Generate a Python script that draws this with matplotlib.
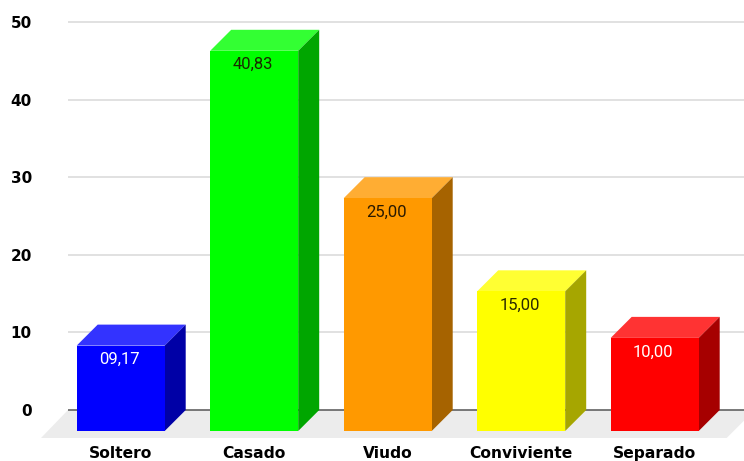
import matplotlib
matplotlib.use('Agg')
import matplotlib.pyplot as plt
from matplotlib.patches import Polygon

# Estado civil: porcentaje de cada grupo sobre un total de 120 personas
categorias = ['Soltero', 'Casado', 'Viudo', 'Conviviente', 'Separado']
porcentajes = [9.17, 40.83, 25.00, 15.00, 10.00]
total = 120
y_ticks = [0, 10, 20, 30, 40, 50]

color_frente = ['#0000ff', '#00ff00', '#ff9900', '#ffff00', '#ff0000']
color_arriba = ['#3333ff', '#33ff33', '#ffad33', '#ffff33', '#ff3333']
color_lado = ['#0000a6', '#00a600', '#a66300', '#a6a600', '#a60000']
color_texto = ['white', '#1a2a00', '#2a1a00', '#2a2a00', 'white']

W, H = 744, 461
# escala en pixeles de la figura
px_y = 7.76
px_x = 133.5
x0_px = 120.7
prof = 21

conteos = [p * total / 100 for p in porcentajes]
x = list(range(len(categorias)))
ancho = 88 / px_x
dx = prof / px_x
dy = prof / px_y

fig = plt.figure(figsize=(W / 100, H / 100), dpi=100)
ax = fig.add_axes([68 / W, (H - 438) / H, (W - 68) / W, (438 - 22) / H])
ax.set_xlim((68 - x0_px) / px_x, (W - x0_px) / px_x)
ax.set_ylim(-28 / px_y, 50)

for s in ax.spines.values():
    s.set_visible(False)

# piso gris detras de las barras
xa, xb = ax.get_xlim()
piso_x = 27 / px_x
ax.add_patch(Polygon([(xa - piso_x, -28 / px_y), (xa, 0), (xb + 0.08, 0), (xb - 0.13, -28 / px_y)],
                     facecolor='#ececec', edgecolor='none', clip_on=False, zorder=1))

# lineas de la grilla
ax.hlines(y_ticks[1:], xa, xb, color='#d9d9d9', lw=1.1, clip_on=False, zorder=2)
ax.hlines(0, xa, xb, color='#555555', lw=1.1, clip_on=False, zorder=2)

# cara frontal de cada barra, mas la tapa y el costado
base = -dy
ax.bar(x, conteos, width=ancho, bottom=base, color=color_frente, zorder=4)
for i, c in enumerate(conteos):
    izq = i - ancho / 2
    der = i + ancho / 2
    tope = base + c
    ax.add_patch(Polygon([(izq, tope), (izq + dx, tope + dy), (der + dx, tope + dy), (der, tope)],
                         facecolor=color_arriba[i], edgecolor='none', zorder=3))
    ax.add_patch(Polygon([(der, base), (der + dx, base + dy), (der + dx, tope + dy), (der, tope)],
                         facecolor=color_lado[i], edgecolor='none', zorder=3))
    etiqueta = f'{porcentajes[i]:05.2f}'.replace('.', ',')
    ax.text(i - 0.01, tope - 14 / px_y, etiqueta, ha='center', va='center', family='Roboto',
            fontsize=12, color=color_texto[i], zorder=5)

ax.set_xticks(x)
ax.set_xticklabels(categorias, family='DejaVu Sans', fontweight='bold', fontsize=11.2)
ax.set_yticks(y_ticks)
ax.set_yticklabels(y_ticks, family='DejaVu Sans', fontweight='bold', fontsize=11)
ax.tick_params(axis='x', length=0, pad=5.5)
ax.tick_params(axis='y', length=0, pad=26)

fig.savefig('out.png', dpi=100)
